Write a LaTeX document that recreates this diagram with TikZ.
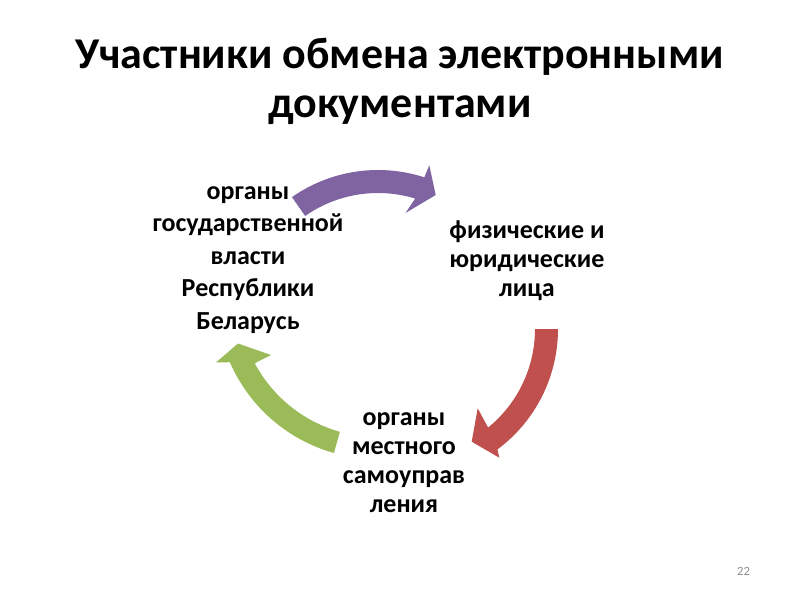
\documentclass[tikz,border=0pt]{standalone}
\usepackage{fontspec}
\setmainfont{Carlito}
\definecolor{purp}{HTML}{8064A2}
\definecolor{redc}{HTML}{C0504D}
\definecolor{grn}{HTML}{9BBB59}
\definecolor{numgray}{HTML}{8C8C8C}
\begin{document}
\begin{tikzpicture}[x=0.75pt,y=-0.75pt,
  titletext/.style={font=\fontsize{33}{36.5}\selectfont\bfseries, align=center, inner sep=0pt},
  lbl/.style={font=\fontsize{19.5}{21.75}\selectfont\bfseries, align=center, inner sep=0pt},
  lblwide/.style={font=\fontsize{19.5}{24.4}\selectfont\bfseries, align=center, inner sep=0pt},
  pagenum/.style={font=\fontsize{9.5}{11}\selectfont, text=numgray, inner sep=0pt}]
\useasboundingbox (0,0) rectangle (800,600);
\fill[white] (0,0) rectangle (800,600);

% title
\node[titletext] (title) at (400,81.5) {Участники обмена электронными\\документами};

% text nodes
\node[lblwide] (gov) at (248,260) {органы\\государственной\\власти\\Республики\\Беларусь};
\node[lbl] (fiz) at (527,261) {физические и\\юридические\\лица};
\node[lbl] (loc) at (404,463) {органы\\местного\\самоуправ\\ления};

% arrow: gov -> fiz (purple)
\fill[purp] plot[domain=-125:-72, samples=40] ({378+150*cos(\x)},{320+150*sin(\x)})
  -- (429.3,165.3) -- (435.7,195) -- (405.5,213)
  -- plot[domain=-73:-125, samples=40] ({378+127*cos(\x)},{320+127*sin(\x)}) -- cycle;

% arrow: fiz -> loc (red)
\fill[redc] plot[domain=0:53.4, samples=40] ({408+150*cos(\x)},{329+150*sin(\x)})
  -- (499.3,457.7) -- (471.7,441.7) -- (477.7,408.3)
  -- plot[domain=50.9:0, samples=40] ({408+127*cos(\x)},{329+127*sin(\x)}) -- cycle;

% arrow: loc -> gov (green)
\fill[grn] plot[domain=105.7:156.5, samples=40] ({377.5+161*cos(\x)},{298+161*sin(\x)})
  -- (216,362.5) -- (238,343.5) -- (271,355)
  -- plot[domain=152:105.7, samples=40] ({377.5+139*cos(\x)},{298+139*sin(\x)}) -- cycle;

% slide number
\node[pagenum] (num) at (743.5,571) {22};
\end{tikzpicture}
\end{document}
